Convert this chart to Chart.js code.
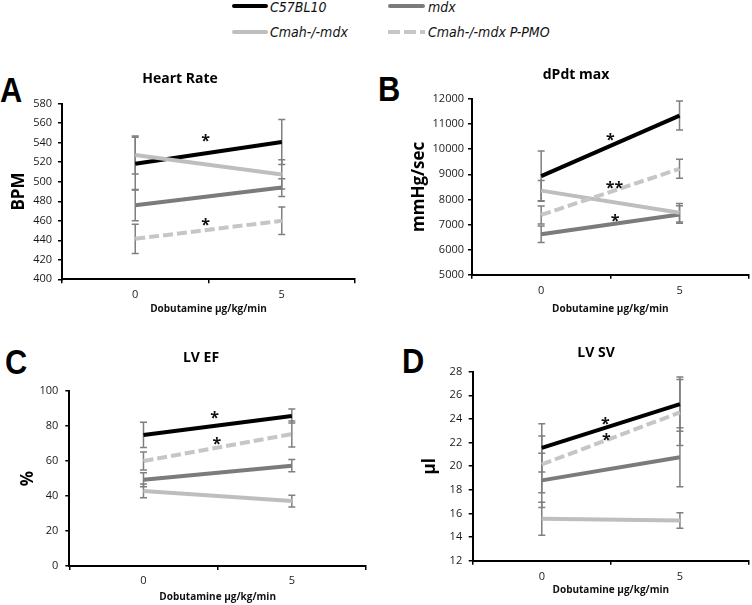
<!DOCTYPE html>
<html>
<head>
<meta charset="utf-8">
<script src="https://cdn.jsdelivr.net/npm/chart.js@4.4.0/dist/chart.umd.min.js"></script>
<style>
    body { margin: 0; width: 752px; height: 605px; position: relative; overflow: hidden; background: #fff; }
    canvas { position: absolute; }
    .letter { position: absolute; font: bold 35px 'Liberation Sans', Arial, sans-serif; line-height: 35px; transform: scaleX(0.88); transform-origin: left; }
    .leg-line { position: absolute; height: 4px; border-radius: 2px; }
    .leg-text { position: absolute; font: italic 14px 'Liberation Sans Narrow', 'DejaVu Sans Condensed', sans-serif; line-height: 14px; color: #111; white-space: nowrap; }
</style>
</head>
<body>
<!-- legend -->
<div class="leg-line" style="left:232px;top:4px;width:36px;background:#000"></div>
<div class="leg-text" style="left:270px;top:0px">C57BL10</div>
<div class="leg-line" style="left:388px;top:4px;width:37px;background:#7b7b7b"></div>
<div class="leg-text" style="left:428px;top:0px">mdx</div>
<div class="leg-line" style="left:232px;top:30px;width:36px;background:#bebebe"></div>
<div class="leg-text" style="left:270px;top:25px">Cmah-/-mdx</div>
<div class="leg-line" style="left:388px;top:30px;width:37px;border-radius:0;background:repeating-linear-gradient(90deg,#c6c6c6 0 12px,transparent 12px 16px)"></div>
<div class="leg-text" style="left:428px;top:25px">Cmah-/-mdx P-PMO</div>

<!-- panel letters -->
<div class="letter" style="left:0px;top:72px">A</div>
<div class="letter" style="left:378px;top:71px">B</div>
<div class="letter" style="left:5px;top:344px">C</div>
<div class="letter" style="left:402px;top:343px">D</div>

<canvas id="hrChart"></canvas>
<canvas id="dpdtChart"></canvas>
<canvas id="efChart"></canvas>
<canvas id="svChart"></canvas>

<script>
// Dobutamine doses (x categories)
const doses = ['0', '5'];
const groups = ['C57BL10', 'mdx', 'Cmah-/-mdx', 'Cmah-/-mdx P-PMO'];

// A - Heart rate (BPM)
const hrC57 = [518.5, 540.7];
const hrMdx = [476, 494];
const hrCmah = [527.5, 507.5];
const hrPmo = [441.5, 460];
const hrC57Err = [27, 23];
const hrMdxErr = [16, 9];
const hrCmahErr = [19.5, 15];
const hrPmoErr = [15, 14];

// B - dP/dt max (mmHg/sec)
const dpC57 = [8930, 11340];
const dpMdx = [6610, 7400];
const dpCmah = [8350, 7470];
const dpPmo = [7380, 9220];
const dpC57Err = [1000, 580];
const dpMdxErr = [330, 350];
const dpCmahErr = [400, 370];
const dpPmoErr = [360, 380];

// C - LV ejection fraction (%)
const efC57 = [74.9, 85.7];
const efMdx = [49.3, 57.3];
const efCmah = [42.9, 37.1];
const efPmo = [60, 75.4];
const efC57Err = [7.2, 4];
const efMdxErr = [4, 3.5];
const efCmahErr = [3.9, 3.4];
const efPmoErr = [5.1, 7.4];

// D - LV stroke volume (µl)
const svC57 = [21.55, 25.25];
const svMdx = [18.8, 20.75];
const svCmah = [15.55, 15.4];
const svPmo = [20.15, 24.55];
const svC57Err = [2.05, 2.3];
const svMdxErr = [2.3, 2.5];
const svCmahErr = [1.4, 0.65];
const svPmoErr = [2.4, 2.8];

// Significance marks (x = position between doses, y = value)
const hrStars = [{ x: 0.48, y: 545.4, t: '*' }, { x: 0.48, y: 460.1, t: '*' }];
const dpStars = [{ x: 0.5, y: 10534, t: '*' }, { x: 0.53, y: 8626, t: '**' }, { x: 0.535, y: 7311, t: '*' }];
const efStars = [{ x: 0.48, y: 86.7, t: '*' }, { x: 0.495, y: 72, t: '*' }];
const svStars = [{ x: 0.46, y: 23.87, t: '*' }, { x: 0.467, y: 22.54, t: '*' }];

// Y axis ranges
const hrTicks = { min: 400, max: 580, step: 20 };
const dpTicks = { min: 5000, max: 12000, step: 1000 };
const efTicks = { min: 0, max: 100, step: 20 };
const svTicks = { min: 12, max: 28, step: 2 };

// Line styles per group
const groupStyles = [
    { color: '#000000', dash: [], order: 4 },
    { color: '#7b7b7b', dash: [], order: 3 },
    { color: '#bebebe', dash: [], order: 2 },
    { color: '#c6c6c6', dash: [10, 4], order: 1 }
];

Chart.defaults.font.family = "'Open Sans', sans-serif";
Chart.defaults.color = '#1a1a1a';

// Draw error bars under the lines
const errorBars = {
    id: 'errorBars',
    beforeDatasetsDraw(chart) {
        const { ctx, scales: { x, y } } = chart;
        ctx.save();
        ctx.strokeStyle = '#7f7f7f';
        ctx.lineWidth = 1.5;
        chart.data.datasets.forEach(ds => {
            ds.data.forEach((v, i) => {
                const e = ds.errors[i];
                const px = x.getPixelForValue(i);
                const top = y.getPixelForValue(v + e);
                const bot = y.getPixelForValue(v - e);
                ctx.beginPath();
                ctx.moveTo(px, top); ctx.lineTo(px, bot);
                ctx.moveTo(px - 3.5, top); ctx.lineTo(px + 3.5, top);
                ctx.moveTo(px - 3.5, bot); ctx.lineTo(px + 3.5, bot);
                ctx.stroke();
            });
        });
        ctx.restore();
    }
};

// Asterisks
function starMarks(marks) {
    return {
        id: 'stars',
        afterDatasetsDraw(chart) {
            const { ctx, scales: { x, y } } = chart;
            ctx.save();
            ctx.fillStyle = '#111';
            ctx.font = "bold 16px 'Open Sans', sans-serif";
            ctx.textAlign = 'center';
            ctx.textBaseline = 'alphabetic';
            marks.forEach(m => {
                ctx.fillText(m.t, x.getPixelForValue(m.x), y.getPixelForValue(m.y) + 9);
            });
            ctx.restore();
        }
    };
}

// Build one panel; lay holds page positions of canvas, plot area and texts
function makePanel(id, lay, title, yTitle, ticks, series, errors, stars) {
    const [bx, by, bw, bh] = lay.box;
    const [al, at, ar, ab] = lay.area;
    const canvas = document.getElementById(id);
    canvas.width = bw;
    canvas.height = bh;
    canvas.style.left = bx + 'px';
    canvas.style.top = by + 'px';

    const padLeft = 2 * lay.titleX - ar - bx;
    const padRight = bx + bw - ar;
    const yAxisW = al - bx - padLeft;
    const xAxisH = by + bh - ab;
    const titleLH = 14 * 1.2;
    const tc = lay.titleY - by;
    const tickLen = 4;

    return new Chart(canvas, {
        type: 'line',
        data: {
            labels: doses,
            datasets: series.map((vals, i) => ({
                label: groups[i],
                data: vals,
                errors: errors[i],
                borderColor: groupStyles[i].color,
                borderDash: groupStyles[i].dash,
                borderWidth: 4,
                borderCapStyle: 'butt',
                order: groupStyles[i].order,
                pointRadius: 0,
                tension: 0,
                fill: false
            }))
        },
        options: {
            responsive: false,
            animation: false,
            devicePixelRatio: 1,
            layout: { padding: { left: padLeft, right: padRight, top: 0, bottom: 0 } },
            plugins: {
                legend: { display: false },
                tooltip: { enabled: false },
                title: {
                    display: true,
                    text: title,
                    color: '#000',
                    font: { size: 14, weight: 'bold' },
                    padding: { top: tc - titleLH / 2, bottom: (at - by) - tc - titleLH / 2 }
                }
            },
            scales: {
                x: {
                    type: 'category',
                    offset: true,
                    afterFit: s => { s.height = xAxisH; },
                    border: { color: '#000', width: 2 },
                    grid: { offset: true, drawOnChartArea: false, tickLength: tickLen, color: '#000', lineWidth: 1.5 },
                    ticks: { font: { size: 11 }, maxRotation: 0, padding: lay.xLabelY - ab - tickLen - 6.6 },
                    title: {
                        display: true,
                        text: 'Dobutamine µg/kg/min',
                        color: '#111',
                        font: { size: 10, weight: 'bold' },
                        padding: { top: 0, bottom: (by + bh) - lay.xTitleY - 6 }
                    }
                },
                y: {
                    min: ticks.min,
                    max: ticks.max,
                    afterFit: s => { s.width = yAxisW; },
                    border: { color: '#000', width: 2 },
                    grid: { drawOnChartArea: false, tickLength: tickLen, color: '#000', lineWidth: 1.5 },
                    ticks: {
                        stepSize: ticks.step,
                        font: { size: 11 },
                        padding: lay.yGap - tickLen,
                        callback: v => String(v)
                    },
                    title: {
                        display: true,
                        text: yTitle,
                        color: '#000',
                        font: { size: 17, weight: 'bold' },
                        padding: { top: (lay.yTitleX - bx - padLeft) - 10.2, bottom: 0 }
                    }
                }
            }
        },
        plugins: [errorBars, starMarks(stars)]
    });
}

makePanel('hrChart',
    { box: [0, 60, 360, 260], area: [62, 103.7, 355, 279.3], titleX: 180, titleY: 79.5, yTitleX: 19, yGap: 10, xLabelY: 295, xTitleY: 309.5 },
    'Heart Rate', 'BPM', hrTicks,
    [hrC57, hrMdx, hrCmah, hrPmo], [hrC57Err, hrMdxErr, hrCmahErr, hrPmoErr], hrStars);

makePanel('dpdtChart',
    { box: [376, 60, 376, 260], area: [472, 99, 748.7, 274.7], titleX: 576, titleY: 75.5, yTitleX: 418.7, yGap: 8, xLabelY: 290.7, xTitleY: 309.5 },
    'dPdt max', 'mmHg/sec', dpTicks,
    [dpC57, dpMdx, dpCmah, dpPmo], [dpC57Err, dpMdxErr, dpCmahErr, dpPmoErr], dpStars);

makePanel('efChart',
    { box: [0, 320, 376, 285], area: [69.3, 391, 366, 566], titleX: 201, titleY: 358, yTitleX: 28.3, yGap: 11, xLabelY: 581, xTitleY: 597.5 },
    'LV EF', '%', efTicks,
    [efC57, efMdx, efCmah, efPmo], [efC57Err, efMdxErr, efCmahErr, efPmoErr], efStars);

makePanel('svChart',
    { box: [376, 320, 376, 285], area: [472.7, 371.7, 749, 560.7], titleX: 596, titleY: 353, yTitleX: 430, yGap: 10.5, xLabelY: 577, xTitleY: 590 },
    'LV SV', 'µl', svTicks,
    [svC57, svMdx, svCmah, svPmo], [svC57Err, svMdxErr, svCmahErr, svPmoErr], svStars);
</script>
</body>
</html>
